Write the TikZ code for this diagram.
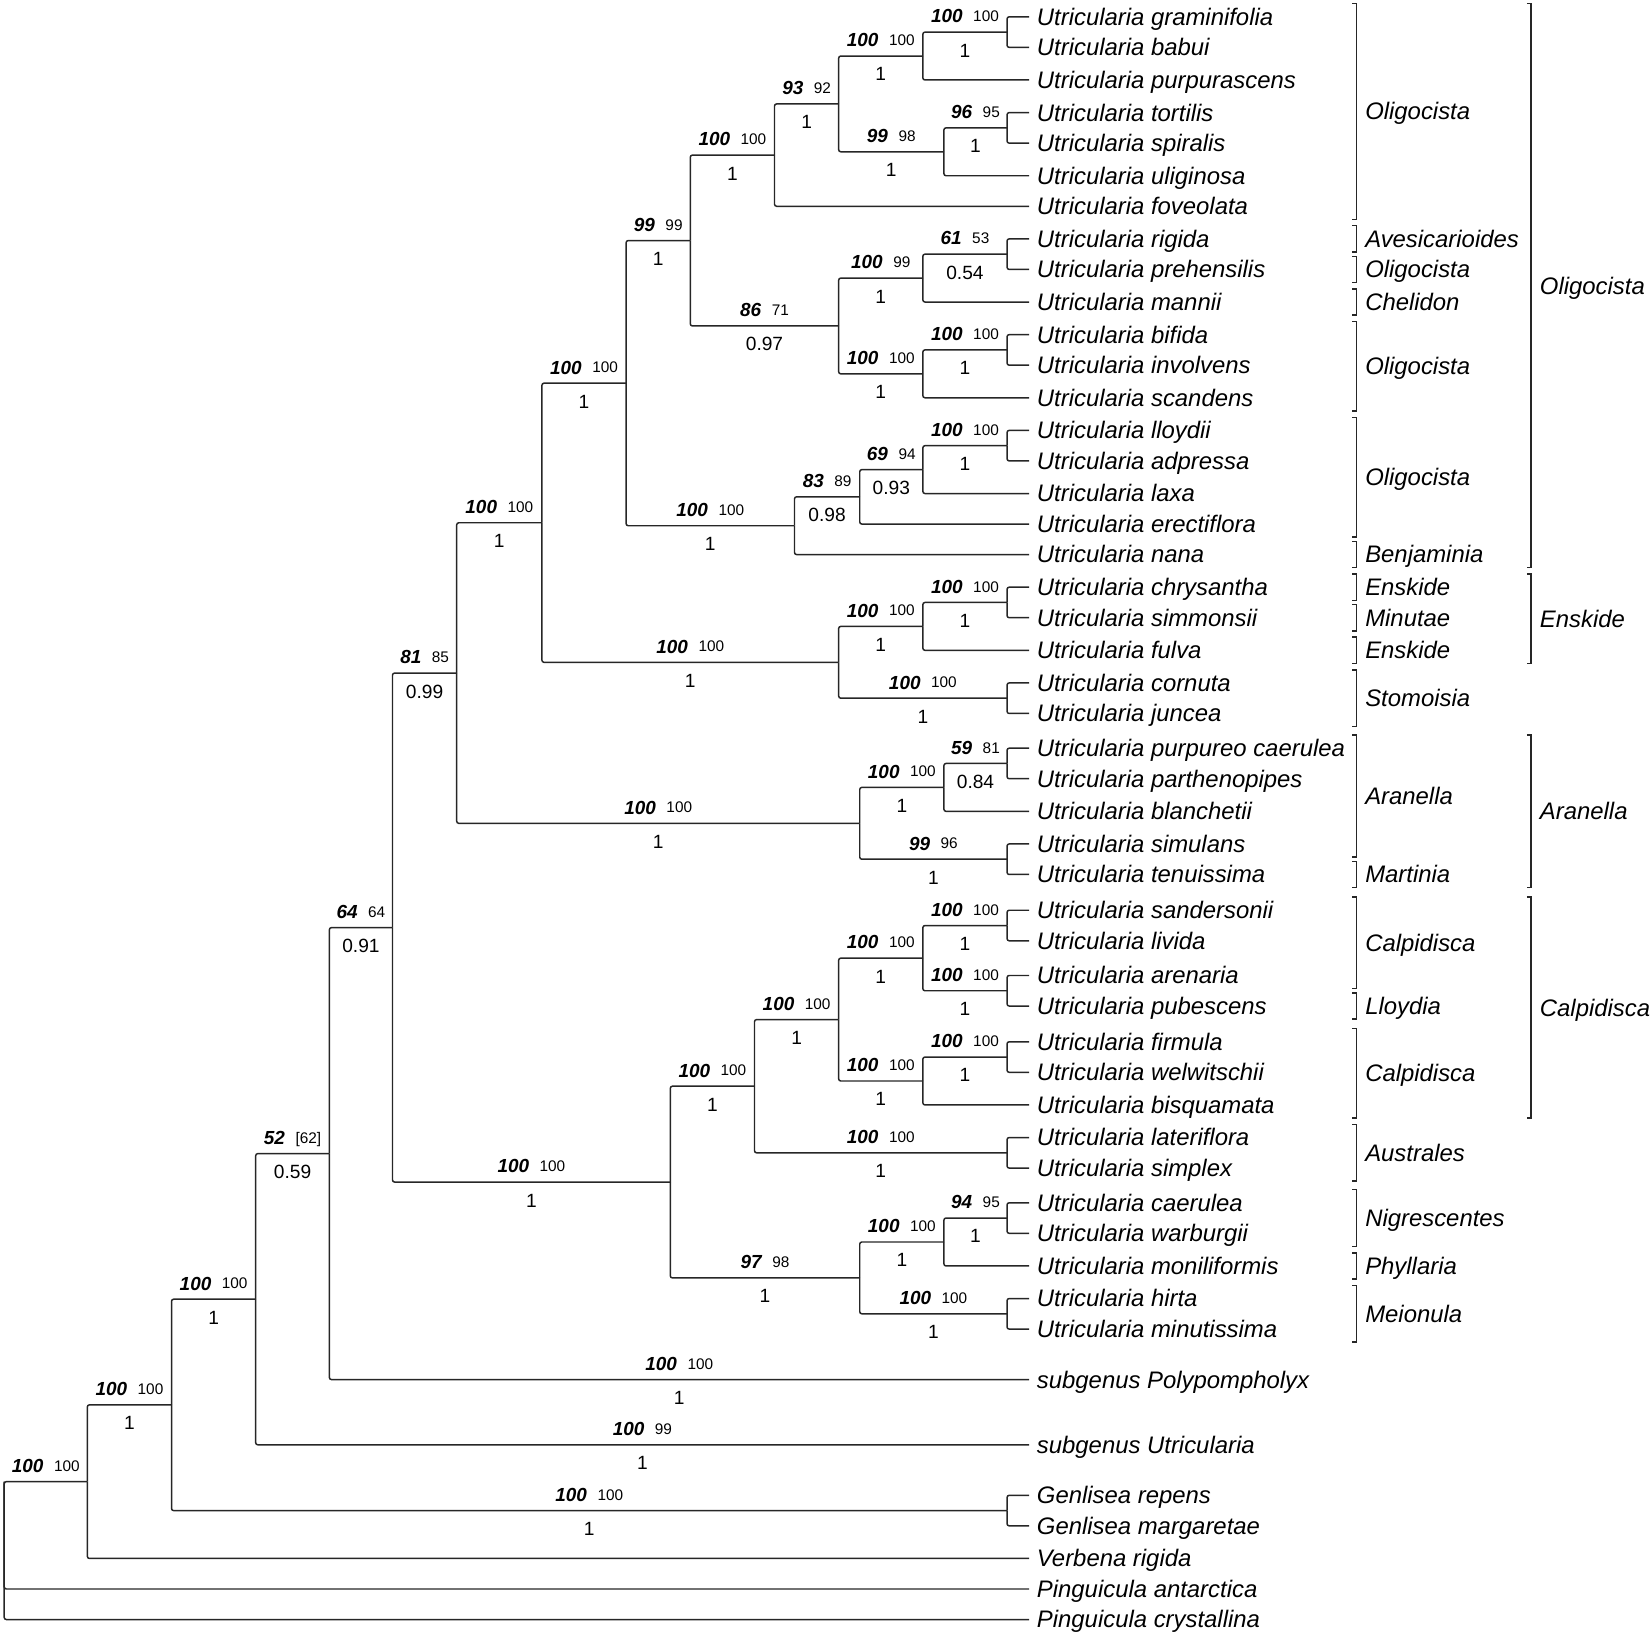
\documentclass[tikz,border=0pt]{standalone}
\usepackage{fontspec}
\setmainfont{Liberation Sans}

% bootstrap pair: bold italic ML value, small MP value
\newcommand{\suppval}[2]{{\fontsize{9}{9}\selectfont\bfseries\itshape #1}\hspace{5pt}\raisebox{0.6pt}{\fontsize{7.3}{8}\selectfont #2}}

\tikzset{
  branch/.style={line width=0.7pt, draw=black!85, rounded corners=1pt},
  taxon/.style={anchor=west, inner xsep=3.5pt, inner ysep=0pt, text height=8pt, text depth=0pt,
    font=\fontsize{11.35}{13}\selectfont\itshape},
  bootlab/.style={pos=0.75, above=4pt, inner sep=0pt, text depth=0pt},
  postprob/.style={pos=0.75, below=5pt, inner sep=0pt, text height=6.5pt, text depth=0pt,
    font=\fontsize{9.1}{10}\selectfont},
  groupbar/.style={line width=0.7pt, draw=black!85},
  grouplabel/.style={anchor=west, inner xsep=4pt, inner ysep=0pt, text height=8pt, text depth=0pt,
    font=\fontsize{11.35}{13}\selectfont\itshape}
}

\begin{document}
\begin{tikzpicture}[x=0.5pt, y=-0.5pt]
    \useasboundingbox (0,0) rectangle (1568,1555);

    % --- Terminal taxa ---
    \node[taxon] (grami) at (978,16) {Utricularia graminifolia};
    \node[taxon] (babui) at (978,45) {Utricularia babui};
    \node[taxon] (purpur) at (978,76) {Utricularia purpurascens};
    \node[taxon] (tortil) at (978,107) {Utricularia tortilis};
    \node[taxon] (spiral) at (978,136) {Utricularia spiralis};
    \node[taxon] (uligin) at (978,167) {Utricularia uliginosa};
    \node[taxon] (foveol) at (978,196) {Utricularia foveolata};
    \node[taxon] (rigida) at (978,227) {Utricularia rigida};
    \node[taxon] (prehen) at (978,256) {Utricularia prehensilis};
    \node[taxon] (mannii) at (978,287) {Utricularia mannii};
    \node[taxon] (bifida) at (978,318) {Utricularia bifida};
    \node[taxon] (involv) at (978,347) {Utricularia involvens};
    \node[taxon] (scand) at (978,378) {Utricularia scandens};
    \node[taxon] (lloydii) at (978,409) {Utricularia lloydii};
    \node[taxon] (adpres) at (978,438) {Utricularia adpressa};
    \node[taxon] (laxa) at (978,469) {Utricularia laxa};
    \node[taxon] (erecti) at (978,498) {Utricularia erectiflora};
    \node[taxon] (nana) at (978,527) {Utricularia nana};
    \node[taxon] (chrysa) at (978,558) {Utricularia chrysantha};
    \node[taxon] (simmon) at (978,587) {Utricularia simmonsii};
    \node[taxon] (fulva) at (978,618) {Utricularia fulva};
    \node[taxon] (cornut) at (978,649) {Utricularia cornuta};
    \node[taxon] (juncea) at (978,678) {Utricularia juncea};
    \node[taxon] (purcae) at (978,711) {Utricularia purpureo caerulea};
    \node[taxon] (parthe) at (978,740) {Utricularia parthenopipes};
    \node[taxon] (blanch) at (978,771) {Utricularia blanchetii};
    \node[taxon] (simula) at (978,802) {Utricularia simulans};
    \node[taxon] (tenuis) at (978,831) {Utricularia tenuissima};
    \node[taxon] (sander) at (978,865) {Utricularia sandersonii};
    \node[taxon] (livida) at (978,894) {Utricularia livida};
    \node[taxon] (arenar) at (978,927) {Utricularia arenaria};
    \node[taxon] (pubesc) at (978,956) {Utricularia pubescens};
    \node[taxon] (firmul) at (978,990) {Utricularia firmula};
    \node[taxon] (welwit) at (978,1019) {Utricularia welwitschii};
    \node[taxon] (bisqua) at (978,1050) {Utricularia bisquamata};
    \node[taxon] (lateri) at (978,1081) {Utricularia lateriflora};
    \node[taxon] (simplx) at (978,1110) {Utricularia simplex};
    \node[taxon] (caerul) at (978,1143) {Utricularia caerulea};
    \node[taxon] (warbur) at (978,1172) {Utricularia warburgii};
    \node[taxon] (monili) at (978,1203) {Utricularia moniliformis};
    \node[taxon] (hirta) at (978,1234) {Utricularia hirta};
    \node[taxon] (minuti) at (978,1263) {Utricularia minutissima};
    \node[taxon] (polypo) at (978,1311) {subgenus Polypompholyx};
    \node[taxon] (subutr) at (978,1373) {subgenus Utricularia};
    \node[taxon] (genrep) at (978,1421) {Genlisea repens};
    \node[taxon] (genmar) at (978,1450) {Genlisea margaretae};
    \node[taxon] (verben) at (978,1481) {Verbena rigida};
    \node[taxon] (pinant) at (978,1510) {Pinguicula antarctica};
    \node[taxon] (pincry) at (978,1539) {Pinguicula crystallina};

    % --- Internal nodes (x = depth, y = midpoint of the two children) ---
    \coordinate (gb) at (957,30.5);
    \coordinate (gbp) at (877,53.25);
    \coordinate (ts) at (957,121.5);
    \coordinate (tsu) at (897,144.25);
    \coordinate (olA) at (797,98.75);
    \coordinate (olB) at (736,147.4);
    \coordinate (rp) at (957,241.5);
    \coordinate (rpm) at (877,264.25);
    \coordinate (bi) at (957,332.5);
    \coordinate (bis) at (877,355.25);
    \coordinate (olC) at (797,309.75);
    \coordinate (olD) at (656,228.6);
    \coordinate (la) at (957,423.5);
    \coordinate (lal) at (877,446.25);
    \coordinate (lale) at (817,472.1);
    \coordinate (lalen) at (755,499.6);
    \coordinate (olE) at (595,364.1);
    \coordinate (cs) at (957,572.5);
    \coordinate (csf) at (877,595.25);
    \coordinate (cj) at (957,663.5);
    \coordinate (ens) at (797,629.4);
    \coordinate (olF) at (515,496.75);
    \coordinate (pp) at (957,725.5);
    \coordinate (ppb) at (897,748.25);
    \coordinate (st) at (957,816.5);
    \coordinate (ara) at (817,782.4);
    \coordinate (olG) at (434,639.6);
    \coordinate (sl) at (957,879.5);
    \coordinate (ap) at (957,941.5);
    \coordinate (slap) at (877,910.5);
    \coordinate (fw) at (957,1004.5);
    \coordinate (fwb) at (877,1027.25);
    \coordinate (cal) at (797,968.9);
    \coordinate (ls) at (957,1095.5);
    \coordinate (calA) at (717,1032.2);
    \coordinate (cw) at (957,1157.5);
    \coordinate (cwm) at (897,1180.25);
    \coordinate (hm) at (957,1248.5);
    \coordinate (nig) at (817,1214.4);
    \coordinate (calB) at (637,1123.3);
    \coordinate (bivA) at (373,881.5);
    \coordinate (bivB) at (313,1096.25);
    \coordinate (utr) at (243,1234.6);
    \coordinate (gen) at (957,1435.5);
    \coordinate (lent) at (163,1335);
    \coordinate (lam) at (83,1408);
    \coordinate (root) at (4,1408);

    % --- Oligocista part ---
    \draw[branch] (gb) |- (grami);
    \draw[branch] (gb) |- (babui);
    \draw[branch] (gbp) |- node[bootlab]{\suppval{100}{100}} node[postprob]{1} (gb);
    \draw[branch] (gbp) |- (purpur);
    \draw[branch] (ts) |- (tortil);
    \draw[branch] (ts) |- (spiral);
    \draw[branch] (tsu) |- node[bootlab]{\suppval{96}{95}} node[postprob]{1} (ts);
    \draw[branch] (tsu) |- (uligin);
    \draw[branch] (olA) |- node[bootlab]{\suppval{100}{100}} node[postprob]{1} (gbp);
    \draw[branch] (olA) |- node[bootlab]{\suppval{99}{98}} node[postprob]{1} (tsu);
    \draw[branch] (olB) |- node[bootlab]{\suppval{93}{92}} node[postprob]{1} (olA);
    \draw[branch] (olB) |- (foveol);
    \draw[branch] (rp) |- (rigida);
    \draw[branch] (rp) |- (prehen);
    \draw[branch] (rpm) |- node[bootlab]{\suppval{61}{53}} node[postprob]{0.54} (rp);
    \draw[branch] (rpm) |- (mannii);
    \draw[branch] (bi) |- (bifida);
    \draw[branch] (bi) |- (involv);
    \draw[branch] (bis) |- node[bootlab]{\suppval{100}{100}} node[postprob]{1} (bi);
    \draw[branch] (bis) |- (scand);
    \draw[branch] (olC) |- node[bootlab]{\suppval{100}{99}} node[postprob]{1} (rpm);
    \draw[branch] (olC) |- node[bootlab]{\suppval{100}{100}} node[postprob]{1} (bis);
    \draw[branch] (olD) |- node[bootlab]{\suppval{100}{100}} node[postprob]{1} (olB);
    \draw[branch] (olD) |- node[bootlab]{\suppval{86}{71}} node[postprob]{0.97} (olC);
    \draw[branch] (la) |- (lloydii);
    \draw[branch] (la) |- (adpres);
    \draw[branch] (lal) |- node[bootlab]{\suppval{100}{100}} node[postprob]{1} (la);
    \draw[branch] (lal) |- (laxa);
    \draw[branch] (lale) |- node[bootlab]{\suppval{69}{94}} node[postprob]{0.93} (lal);
    \draw[branch] (lale) |- (erecti);
    \draw[branch] (lalen) |- node[bootlab]{\suppval{83}{89}} node[postprob]{0.98} (lale);
    \draw[branch] (lalen) |- (nana);
    \draw[branch] (olE) |- node[bootlab]{\suppval{99}{99}} node[postprob]{1} (olD);
    \draw[branch] (olE) |- node[bootlab]{\suppval{100}{100}} node[postprob]{1} (lalen);

    % --- Enskide / Stomoisia ---
    \draw[branch] (cs) |- (chrysa);
    \draw[branch] (cs) |- (simmon);
    \draw[branch] (csf) |- node[bootlab]{\suppval{100}{100}} node[postprob]{1} (cs);
    \draw[branch] (csf) |- (fulva);
    \draw[branch] (cj) |- (cornut);
    \draw[branch] (cj) |- (juncea);
    \draw[branch] (ens) |- node[bootlab]{\suppval{100}{100}} node[postprob]{1} (csf);
    \draw[branch] (ens) |- node[bootlab]{\suppval{100}{100}} node[postprob]{1} (cj);
    \draw[branch] (olF) |- node[bootlab]{\suppval{100}{100}} node[postprob]{1} (olE);
    \draw[branch] (olF) |- node[bootlab]{\suppval{100}{100}} node[postprob]{1} (ens);

    % --- Aranella ---
    \draw[branch] (pp) |- (purcae);
    \draw[branch] (pp) |- (parthe);
    \draw[branch] (ppb) |- node[bootlab]{\suppval{59}{81}} node[postprob]{0.84} (pp);
    \draw[branch] (ppb) |- (blanch);
    \draw[branch] (st) |- (simula);
    \draw[branch] (st) |- (tenuis);
    \draw[branch] (ara) |- node[bootlab]{\suppval{100}{100}} node[postprob]{1} (ppb);
    \draw[branch] (ara) |- node[bootlab]{\suppval{99}{96}} node[postprob]{1} (st);
    \draw[branch] (olG) |- node[bootlab]{\suppval{100}{100}} node[postprob]{1} (olF);
    \draw[branch] (olG) |- node[bootlab]{\suppval{100}{100}} node[postprob]{1} (ara);

    % --- Calpidisca and the rest ---
    \draw[branch] (sl) |- (sander);
    \draw[branch] (sl) |- (livida);
    \draw[branch] (ap) |- (arenar);
    \draw[branch] (ap) |- (pubesc);
    \draw[branch] (slap) |- node[bootlab]{\suppval{100}{100}} node[postprob]{1} (sl);
    \draw[branch] (slap) |- node[bootlab]{\suppval{100}{100}} node[postprob]{1} (ap);
    \draw[branch] (fw) |- (firmul);
    \draw[branch] (fw) |- (welwit);
    \draw[branch] (fwb) |- node[bootlab]{\suppval{100}{100}} node[postprob]{1} (fw);
    \draw[branch] (fwb) |- (bisqua);
    \draw[branch] (cal) |- node[bootlab]{\suppval{100}{100}} node[postprob]{1} (slap);
    \draw[branch] (cal) |- node[bootlab]{\suppval{100}{100}} node[postprob]{1} (fwb);
    \draw[branch] (ls) |- (lateri);
    \draw[branch] (ls) |- (simplx);
    \draw[branch] (calA) |- node[bootlab]{\suppval{100}{100}} node[postprob]{1} (cal);
    \draw[branch] (calA) |- node[bootlab]{\suppval{100}{100}} node[postprob]{1} (ls);
    \draw[branch] (cw) |- (caerul);
    \draw[branch] (cw) |- (warbur);
    \draw[branch] (cwm) |- node[bootlab]{\suppval{94}{95}} node[postprob]{1} (cw);
    \draw[branch] (cwm) |- (monili);
    \draw[branch] (hm) |- (hirta);
    \draw[branch] (hm) |- (minuti);
    \draw[branch] (nig) |- node[bootlab]{\suppval{100}{100}} node[postprob]{1} (cwm);
    \draw[branch] (nig) |- node[bootlab]{\suppval{100}{100}} node[postprob]{1} (hm);
    \draw[branch] (calB) |- node[bootlab]{\suppval{100}{100}} node[postprob]{1} (calA);
    \draw[branch] (calB) |- node[bootlab]{\suppval{97}{98}} node[postprob]{1} (nig);
    \draw[branch] (bivA) |- node[bootlab]{\suppval{81}{85}} node[postprob]{0.99} (olG);
    \draw[branch] (bivA) |- node[bootlab]{\suppval{100}{100}} node[postprob]{1} (calB);
    \draw[branch] (bivB) |- node[bootlab]{\suppval{64}{64}} node[postprob]{0.91} (bivA);
    \draw[branch] (bivB) |- node[bootlab]{\suppval{100}{100}} node[postprob]{1} (polypo);
    \draw[branch] (utr) |- node[bootlab]{\suppval{52}{[62]}} node[postprob]{0.59} (bivB);
    \draw[branch] (utr) |- node[bootlab]{\suppval{100}{99}} node[postprob]{1} (subutr);
    \draw[branch] (gen) |- (genrep);
    \draw[branch] (gen) |- (genmar);
    \draw[branch] (lent) |- node[bootlab]{\suppval{100}{100}} node[postprob]{1} (utr);
    \draw[branch] (lent) |- node[bootlab]{\suppval{100}{100}} node[postprob]{1} (gen);
    \draw[branch] (lam) |- node[bootlab]{\suppval{100}{100}} node[postprob]{1} (lent);
    \draw[branch] (lam) |- (verben);
    \draw[branch] (pincry) -| (root) -- node[bootlab, pos=0.5]{\suppval{100}{100}} (lam);
    \draw[branch] (root) |- (pinant);

    % --- Sections (inner) and subgenera (outer) ---
    \foreach \ya/\yb/\grp [count=\i] in {3.5/208.5/Oligocista, 214.5/239.5/Avesicarioides,
        243.5/268.5/Oligocista, 274.5/299.5/Chelidon, 305.5/390.5/Oligocista,
        396.5/510.5/Oligocista, 514.5/539.5/Benjaminia, 545.5/570.5/Enskide,
        574.5/599.5/Minutae, 605.5/630.5/Enskide, 636.5/690.5/Stomoisia,
        698.5/814.5/Aranella, 818.5/843.5/Martinia, 852.5/939.5/Calpidisca,
        943.5/968.5/Lloydia, 977.5/1062.5/Calpidisca, 1068.5/1122.5/Australes,
        1130.5/1184.5/Nigrescentes, 1190.5/1215.5/Phyllaria, 1221.5/1275.5/Meionula}{
      \draw[groupbar] (1285,\ya) -- (1289,\ya) -- (1289,\yb) -- (1285,\yb);
      \node[grouplabel] (sect\i) at (1289,{(\ya+\yb)/2}) {\grp};
    }
    \foreach \ya/\yb/\grp [count=\i] in {3.5/539.5/Oligocista, 545.5/630.5/Enskide,
        698.5/843.5/Aranella, 852.5/1062.5/Calpidisca}{
      \draw[groupbar] (1451,\ya) -- (1455,\ya) -- (1455,\yb) -- (1451,\yb);
      \node[grouplabel] (subg\i) at (1455,{(\ya+\yb)/2}) {\grp};
    }
\end{tikzpicture}
\end{document}
